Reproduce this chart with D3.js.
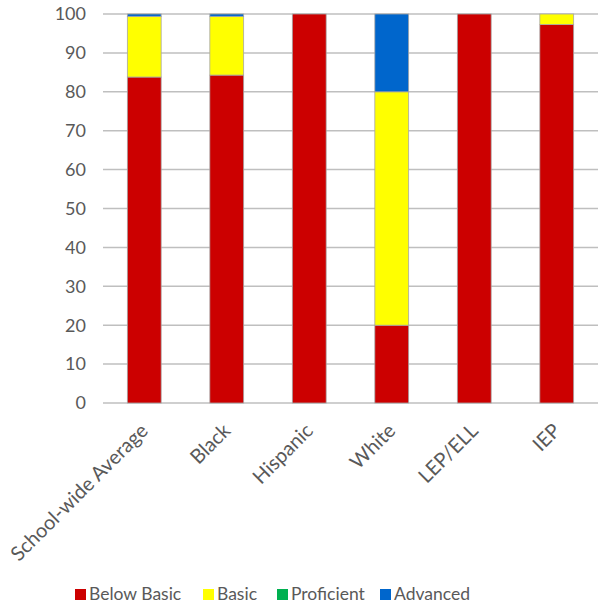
<!DOCTYPE html>
<html>
<head>
<meta charset="utf-8">
<script src="https://cdn.jsdelivr.net/npm/d3@7"></script>
<style>
  body { margin: 0; background: #fff; }
  text { font-family: Lato, "Open Sans", sans-serif; fill: #595959; }
</style>
</head>
<body>
<div id="chart"></div>
<script>
const categories = ["School-wide Average", "Black", "Hispanic", "White", "LEP/ELL", "IEP"];
const series = ["Below Basic", "Basic", "Proficient", "Advanced"];
const belowBasic = [83.8, 84.3, 100, 20, 100, 97.3];
const basic = [15.6, 15.1, 0, 60, 0, 2.7];
const proficient = [0, 0, 0, 0, 0, 0];
const advanced = [0.6, 0.6, 0, 20, 0, 0];
const colors = ["#CC0000", "#FFFF00", "#00B050", "#0066CC"];
const yTicks = [0, 10, 20, 30, 40, 50, 60, 70, 80, 90, 100];

const W = 598, H = 610;
const margin = { top: 14, right: 0, bottom: 207, left: 103 };

const rows = categories.map((c, i) => ({
  cat: c,
  "Below Basic": belowBasic[i],
  "Basic": basic[i],
  "Proficient": proficient[i],
  "Advanced": advanced[i]
}));

const svg = d3.select("#chart").append("svg")
  .attr("width", W)
  .attr("height", H);

const x = d3.scaleBand()
  .domain(categories)
  .range([margin.left, W - margin.right])
  .paddingInner(0.59)
  .paddingOuter(0.295);

const y = d3.scaleLinear()
  .domain([0, 100])
  .range([H - margin.bottom, margin.top]);

// gridlines
svg.append("g")
  .selectAll("line")
  .data(yTicks)
  .join("line")
    .attr("x1", margin.left)
    .attr("x2", W - margin.right)
    .attr("y1", d => y(d))
    .attr("y2", d => y(d))
    .attr("stroke", "#bfbfbf")
    .attr("stroke-width", 1.5);

// y labels
svg.append("g")
  .selectAll("text")
  .data(yTicks)
  .join("text")
    .attr("x", margin.left - 17)
    .attr("y", d => y(d))
    .attr("dy", "0.35em")
    .attr("text-anchor", "end")
    .style("font-size", "18px")
    .text(d => d);

const stack = d3.stack().keys(series)(rows);

svg.append("g")
  .selectAll("g")
  .data(stack)
  .join("g")
    .attr("fill", (d, i) => colors[i])
  .selectAll("rect")
  .data(d => d.filter(p => p[1] - p[0] > 0))
  .join("rect")
    .attr("x", d => x(d.data.cat))
    .attr("width", x.bandwidth())
    .attr("y", d => y(d[1]))
    .attr("height", d => y(d[0]) - y(d[1]))
    .attr("stroke", "#a6a6a6")
    .attr("stroke-width", 0.8);

// x labels
svg.append("g")
  .selectAll("text")
  .data(categories)
  .join("text")
    .attr("transform", d => `translate(${x(d) + x.bandwidth() / 2},${y(0) + 24}) rotate(-45)`)
    .attr("text-anchor", "end")
    .attr("dy", "0.35em")
    .style("font-size", "20px")
    .text(d => d);

// legend
const legendX = [75, 203, 277, 380];
const lg = svg.append("g").attr("transform", `translate(0, ${H - 16})`);
series.forEach((s, i) => {
  const g = lg.append("g").attr("transform", `translate(${legendX[i]},0)`);
  g.append("rect")
    .attr("x", 0).attr("y", -5)
    .attr("width", 11).attr("height", 11)
    .attr("fill", colors[i]);
  g.append("text")
    .attr("x", 14)
    .attr("y", 0)
    .attr("dy", "0.35em")
    .style("font-size", "17.5px")
    .text(s);
});
</script>
</body>
</html>
